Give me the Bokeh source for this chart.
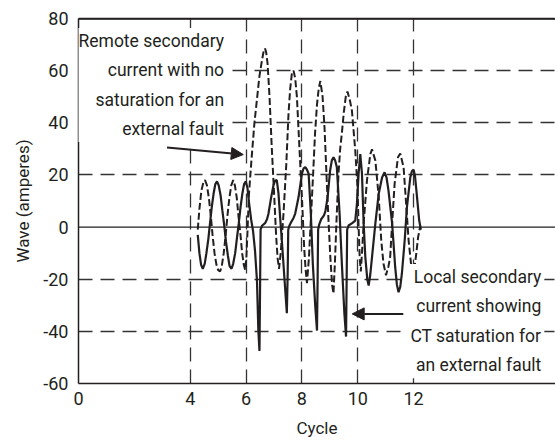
from bokeh.plotting import figure
from bokeh.models import Range1d, FixedTicker, Label, Arrow, NormalHead, Span
from bokeh.embed import file_html
from bokeh.resources import INLINE

FONT = "Roboto"
INK = "#231f20"

# ---- data ----
x_ticks = [0, 4, 6, 8, 10, 12]
x_grid = [4, 6, 8, 10, 12]
y_ticks = [-60, -40, -20, 0, 20, 40, 60, 80]
y_tick_labels = ["-60", "-40", "-20", "0", "20", "40", "60", "80"]
y_grid = [-40, -20, 20, 40, 60]

# Remote secondary current (dashed, no saturation)
remote_x = [4.27, 4.33, 4.40, 4.47, 4.53, 4.60, 4.67, 4.74, 4.80, 4.87, 4.94, 5.00, 5.07,
            5.13, 5.20, 5.27, 5.33, 5.40, 5.47, 5.54, 5.60, 5.67, 5.73, 5.80, 5.86, 5.92,
            5.97, 6.01, 6.05, 6.10, 6.16, 6.21, 6.30, 6.39, 6.48, 6.57, 6.63, 6.68, 6.72,
            6.77, 6.84, 6.92, 7.01, 7.08, 7.13, 7.18, 7.24, 7.34, 7.44, 7.52, 7.58, 7.64,
            7.70, 7.76, 7.82, 7.91, 8.00, 8.08, 8.13, 8.18, 8.25, 8.32, 8.40, 8.47, 8.54,
            8.60, 8.66, 8.74, 8.81, 8.88, 8.95, 9.02, 9.08, 9.13, 9.18, 9.24, 9.31, 9.37,
            9.43, 9.50, 9.57, 9.63, 9.71, 9.79, 9.91, 9.99, 10.03, 10.07, 10.11, 10.15,
            10.21, 10.33, 10.45, 10.51, 10.63, 10.75, 10.84, 10.92, 11.01, 11.10, 11.16,
            11.23, 11.32, 11.44, 11.52, 11.64, 11.74, 11.82, 11.92, 12.00, 12.08, 12.16, 12.24]
remote_y = [-1, 7, 14, 17, 18, 16, 11, 4, -3, -10, -14.5, -16.5, -17,
            -15, -10, -3, 4, 11, 16, 18, 16, 11, 4, -3, -10, -14.5,
            -16.5, -12, -2, 12, 21, 28, 40, 49, 58, 64, 67.5, 68.5, 67,
            62.7, 50, 30.6, 11.5, -4, -12, -16, -10, 5, 24, 43.5, 53, 59,
            60, 57, 50, 30.6, 11.5, -7.7, -16, -21.5, -12, 3, 20, 36, 47,
            53, 56, 50, 38, 20, 3, -12, -22, -25.5, -14, 3, 20.5, 30,
            36, 44, 50, 52, 49, 44.7, 29.4, 15.3, 0, -12, -17, -10,
            1.4, 18, 28, 29.8, 25.5, 11.5, -5, -14, -18.5, -15, -11.5,
            1.4, 16.7, 26.8, 28.2, 23, 7.6, -5.1, -15.4, -17.8, -11.5, -3.9, 0.6]

# Local secondary current (solid, CT saturation)
local_x = [4.27, 4.33, 4.39, 4.45, 4.52, 4.58, 4.65, 4.71, 4.77, 4.84, 4.90, 4.96, 5.02,
           5.09, 5.15, 5.22, 5.28, 5.35, 5.41, 5.48, 5.54, 5.61, 5.67, 5.74, 5.80, 5.87,
           5.93, 5.99, 6.05, 6.11, 6.18, 6.25, 6.32, 6.39, 6.44, 6.48, 6.50, 6.52, 6.57,
           6.68, 6.75, 6.80, 6.90, 6.98, 7.04, 7.10, 7.16, 7.22, 7.28, 7.38, 7.46, 7.49,
           7.51, 7.55, 7.62, 7.70, 7.76, 7.88, 8.00, 8.06, 8.12, 8.18, 8.24, 8.32, 8.39,
           8.48, 8.54, 8.56, 8.58, 8.62, 8.69, 8.79, 8.84, 8.92, 9.01, 9.07, 9.13, 9.19,
           9.25, 9.35, 9.43, 9.52, 9.58, 9.60, 9.62, 9.67, 9.80, 9.91, 9.97, 10.03, 10.09,
           10.15, 10.21, 10.27, 10.34, 10.39, 10.45, 10.51, 10.63, 10.75, 10.87, 10.96,
           11.03, 11.10, 11.23, 11.34, 11.40, 11.46, 11.52, 11.58, 11.68, 11.76, 11.88,
           11.94, 12.00, 12.05, 12.10, 12.20, 12.26]
local_y = [-3, -10, -14.5, -16, -14, -10, -4.5, 1.5, 7.5, 13, 16.5, 17.5, 16,
           12, 6.5, 0.5, -5.5, -11, -15, -16, -14, -10, -4.5, 1.5, 7.5, 13,
           16.5, 17.5, 15, 9, 3, -1.5, -9, -20.5, -39.7, -47.5, -25, -1, 0.5,
           1.5, 3, 5, 11.5, 16, 17.8, 18, 13, 3.8, -5, -20.6, -33, -18,
           -1, 0.5, 2, 3.5, 5.2, 11.5, 20.5, 22.5, 23, 22, 20.5, 5, -14,
           -30.8, -39.7, -22, -1, 1, 3, 4.5, 6, 11.5, 21.7, 25.5, 26.8, 25.5,
           23, 5, -14, -33, -42, -22, -1, 0.6, 1.5, 2.5, 9, 20.5, 28,
           20.5, 1.4, -11.5, -20, -22.4, -18, -11.5, 1.4, 12.8, 19, 21,
           19, 14, 1.4, -15.4, -22, -25, -23, -17.8, -5.1, 7.6, 19,
           21.5, 22, 19.5, 14, 2.5, -1]

remote_text = "Remote secondary\ncurrent with no\nsaturation for an\nexternal fault"
local_text = "Local secondary\ncurrent showing\nCT saturation for\nan external fault"

# ---- figure ----
W, H = 555, 443
BL, BT = 78, 18
p = figure(width=W, height=H, output_backend="svg", toolbar_location=None,
           x_range=Range1d(0, 17.08), y_range=Range1d(y_ticks[0], y_ticks[-1]),
           min_border_left=BL, min_border_right=0, min_border_top=BT, min_border_bottom=60)
p.background_fill_color = "white"
# outline: only its first (top) edge is stroked, the dash gap hides the other sides
p.outline_line_color = INK
p.outline_line_width = 1.6
p.outline_line_dash = f"{W - BL} 2000"

# grids
p.xgrid.ticker = FixedTicker(ticks=x_grid)
p.ygrid.ticker = FixedTicker(ticks=y_grid)
for g in (p.xgrid, p.ygrid):
    g.grid_line_color = "#333333"
    g.grid_line_width = 1.3
    g.grid_line_dash = "14 8"

p.add_layout(Span(location=0, dimension="width", line_color=INK, line_width=1.3))
# top frame rule as a glyph at the top of the y range
p.hspan(y=[y_ticks[-1]], line_color=INK, line_width=2.4)

# axes
xax = p.below[0]
yax = p.left[0]
for ax in (xax, yax):
    ax.axis_line_color = INK
    ax.axis_line_width = 1.5
    ax.major_tick_in = 0
    ax.major_tick_out = 0
    ax.minor_tick_line_color = None
    ax.major_label_text_font = FONT
    ax.major_label_text_font_size = "18px"
    ax.major_label_text_color = INK
    ax.axis_label_text_font = FONT
    ax.axis_label_text_font_size = "17px"
    ax.axis_label_text_font_style = "normal"
    ax.axis_label_text_color = INK

xax.ticker = FixedTicker(ticks=x_ticks)
xax.axis_label = "Cycle"
xax.major_label_standoff = 8
xax.axis_label_standoff = 10
yax.ticker = FixedTicker(ticks=y_ticks)
yax.major_label_overrides = {v: s for v, s in zip(y_ticks, y_tick_labels)}
yax.axis_label = "Wave (amperes)"
yax.major_label_standoff = 10
yax.axis_label_standoff = 7

# curves
p.line(remote_x, remote_y, line_color=INK, line_width=2, line_dash="7 3")
p.line(local_x, local_y, line_color=INK, line_width=2.2)

# annotations
p.add_layout(Label(x=5.32, y=76.4, text=remote_text, text_align="right", text_baseline="top",
                   text_font=FONT, text_font_size="17.5px", text_color=INK, text_line_height=1.47,
                   background_fill_color="white", padding=3))
p.add_layout(Label(x=16.68, y=-14.2, text=local_text, text_align="right", text_baseline="top",
                   text_font=FONT, text_font_size="17.5px", text_color=INK, text_line_height=1.47,
                   background_fill_color="white", padding=3))

p.add_layout(Arrow(end=NormalHead(size=12, fill_color=INK, line_color=INK),
                   x_start=3.17, y_start=30.5, x_end=5.90, y_end=27.8,
                   line_color=INK, line_width=2))
p.add_layout(Arrow(end=NormalHead(size=12, fill_color=INK, line_color=INK),
                   x_start=11.63, y_start=-33.3, x_end=9.80, y_end=-33.3,
                   line_color=INK, line_width=2))

open("out.html", "w").write(file_html(p, INLINE))
